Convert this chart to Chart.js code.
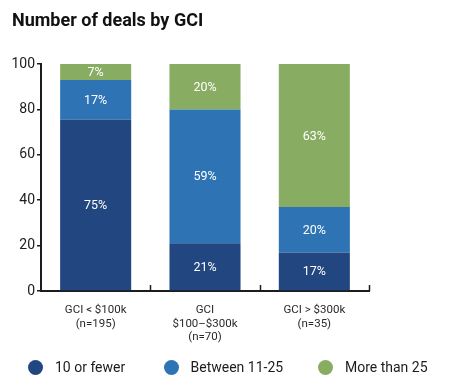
<!DOCTYPE html>
<html><head><meta charset="utf-8">
<script src="https://cdn.jsdelivr.net/npm/chart.js@4/dist/chart.umd.min.js"></script>
<style>html,body{margin:0;padding:0;background:#fff}#wrap{width:454px;height:387px;position:relative}</style>
</head><body><div id="wrap"><canvas id="c"></canvas></div>
<script>
const titleText = "Number of deals by GCI";
const categories = [["GCI < $100k","(n=195)"],["GCI","$100\u2013$300k","(n=70)"],["GCI > $300k","(n=35)"]];
const seriesNames = ["10 or fewer","Between 11-25","More than 25"];
const fewer = [75.5, 21, 17];
const between = [17.5, 59, 20];
const more = [7, 20, 63];
const fewerLabels = ["75%","21%","17%"];
const betweenLabels = ["17%","59%","20%"];
const moreLabels = ["7%","20%","63%"];
const yTicks = [0,20,40,60,80,100];
const colors = ["#22467f","#2e74b5","#88ad62"];
const FONT = "Roboto, 'Liberation Sans', sans-serif";
const ink = "#1c1c1c";

const valueLabels = {
  id:'valueLabels',
  afterDatasetsDraw(chart){
    const ctx = chart.ctx;
    ctx.save();
    ctx.fillStyle = '#fff';
    ctx.font = '12.5px ' + FONT;
    ctx.textAlign = 'center';
    ctx.textBaseline = 'middle';
    chart.data.datasets.forEach((ds, di) => {
      chart.getDatasetMeta(di).data.forEach((el, i) => {
        ctx.fillText(ds.valueText[i], el.x, (el.y + el.base)/2 + 1);
      });
    });
    ctx.restore();
  }
};
const innerTicks = {
  id:'innerTicks',
  afterDraw(chart){
    const xs = chart.scales.x, ctx = chart.ctx;
    const n = categories.length;
    const step = (xs.getPixelForValue(1) - xs.getPixelForValue(0));
    ctx.save();
    ctx.strokeStyle = ink; ctx.lineWidth = 1.5;
    for (let i = 0; i < n; i++) {
      const x = Math.round(xs.getPixelForValue(i) + step/2) + 0.5;
      ctx.beginPath();
      ctx.moveTo(x, chart.chartArea.bottom);
      ctx.lineTo(x, chart.chartArea.bottom - 6);
      ctx.stroke();
    }
    ctx.restore();
  }
};
const titleLegend = {
  id:'titleLegend',
  afterDraw(chart){
    const ctx = chart.ctx;
    ctx.save();
    ctx.fillStyle = '#111';
    ctx.font = 'bold 18px ' + FONT;
    ctx.textAlign = 'left';
    ctx.textBaseline = 'alphabetic';
    ctx.fillText(titleText, 12, 26);
    const cx = [35.5, 171.5, 325.5];
    const tx = [55, 190.5, 345];
    ctx.font = '14px ' + FONT;
    ctx.textBaseline = 'middle';
    chart.data.datasets.forEach((ds, i) => {
      ctx.fillStyle = ds.backgroundColor;
      ctx.beginPath();
      ctx.arc(cx[i], 367.5, 7.5, 0, Math.PI*2);
      ctx.fill();
      ctx.fillStyle = ink;
      ctx.fillText(ds.label, tx[i], 368);
    });
    ctx.restore();
  }
};

new Chart(document.getElementById('c'), {
  type:'bar',
  data:{
    labels: categories,
    datasets:[
      {label:seriesNames[0], data:fewer, backgroundColor:colors[0], valueText:fewerLabels},
      {label:seriesNames[1], data:between, backgroundColor:colors[1], valueText:betweenLabels},
      {label:seriesNames[2], data:more, backgroundColor:colors[2], valueText:moreLabels}
    ]
  },
  options:{
    responsive:true, maintainAspectRatio:false, animation:false,
    layout:{padding:{top:64,left:0,right:85,bottom:40}},
    plugins:{legend:{display:false}, title:{display:false}, tooltip:{enabled:false}},
    datasets:{bar:{barPercentage:0.65, categoryPercentage:1, borderWidth:0}},
    scales:{
      x:{
        stacked:true,
        grid:{display:true, drawOnChartArea:false, drawTicks:false, color:'rgba(0,0,0,0)'},
        border:{display:true, color:ink, width:2},
        ticks:{color:'#2a2a2a', font:{family:FONT, size:11.5, lineHeight:1.2}, padding:12, maxRotation:0, autoSkip:false},
        afterFit(s){ s.height = 56; }
      },
      y:{
        stacked:true, min:0, max:100,
        afterBuildTicks(s){ s.ticks = yTicks.map(v => ({value:v})); },
        grid:{display:true, drawOnChartArea:false, tickLength:4, color:ink, lineWidth:1.5},
        border:{display:true, color:ink, width:2},
        ticks:{color:ink, font:{family:FONT, size:14}, padding:2},
        afterFit(s){ s.width = 41; }
      }
    }
  },
  plugins:[valueLabels, innerTicks, titleLegend]
});
</script></body></html>
